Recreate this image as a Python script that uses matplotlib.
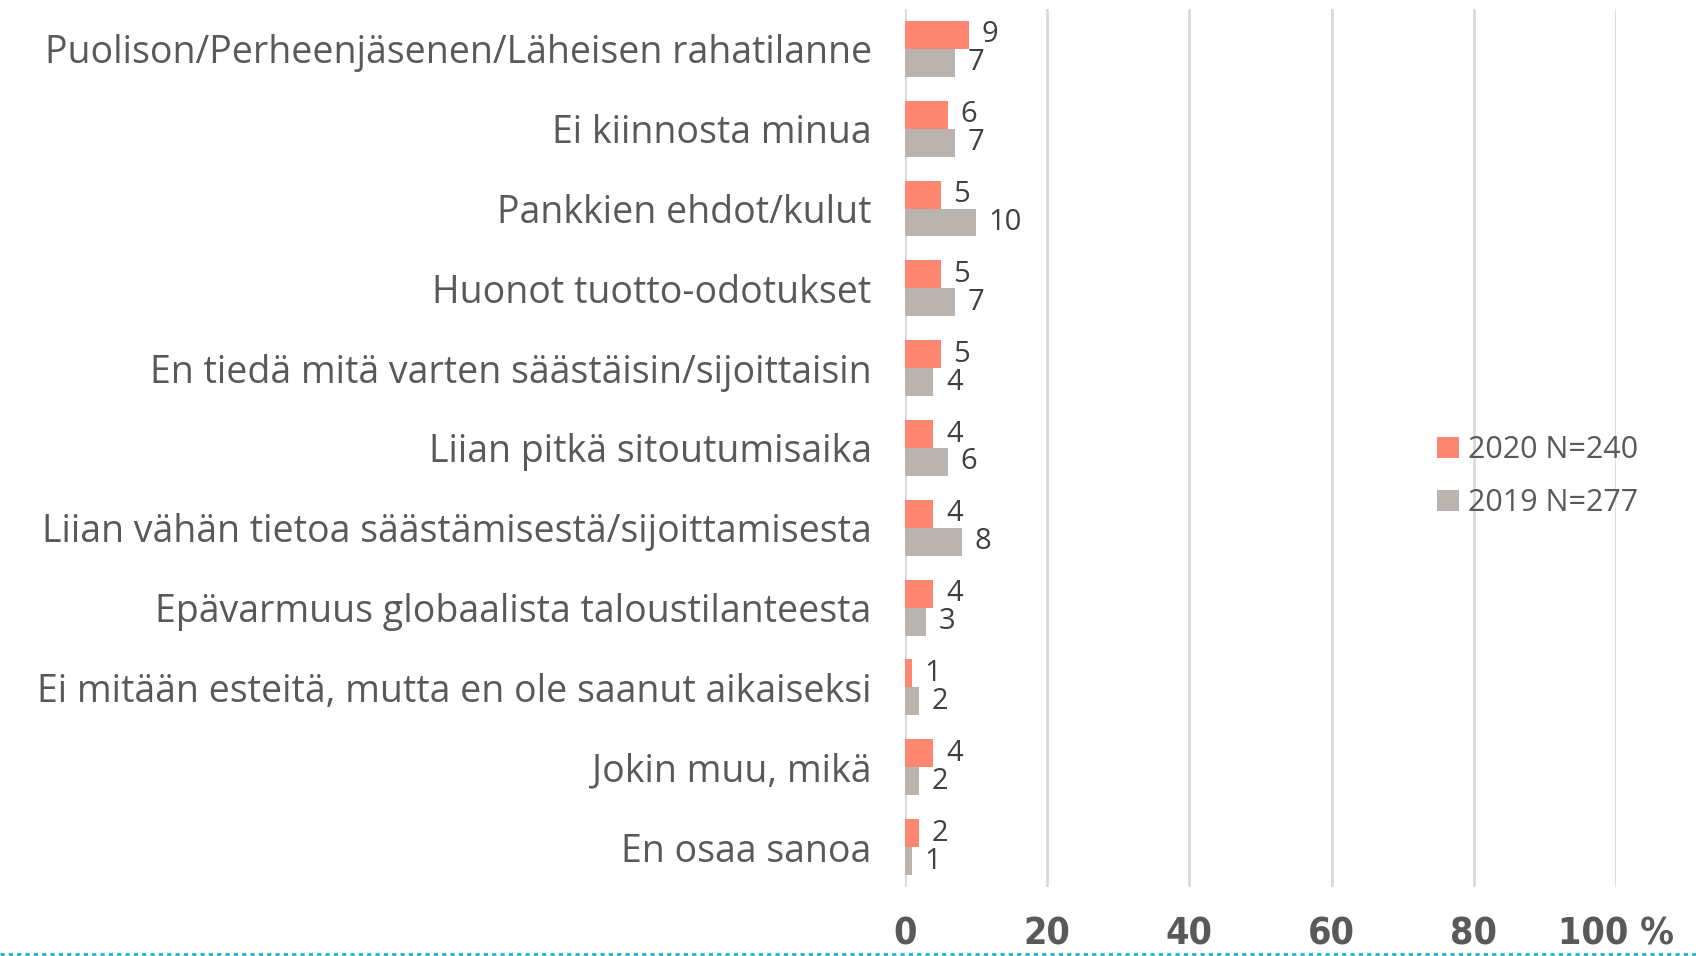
import matplotlib.pyplot as plt
import numpy as np
from matplotlib.lines import Line2D

categories = [
    "Puolison/Perheenjäsenen/Läheisen rahatilanne",
    "Ei kiinnosta minua",
    "Pankkien ehdot/kulut",
    "Huonot tuotto-odotukset",
    "En tiedä mitä varten säästäisin/sijoittaisin",
    "Liian pitkä sitoutumisaika",
    "Liian vähän tietoa säästämisestä/sijoittamisesta",
    "Epävarmuus globaalista taloustilanteesta",
    "Ei mitään esteitä, mutta en ole saanut aikaiseksi",
    "Jokin muu, mikä",
    "En osaa sanoa",
]
values_2020 = [9, 6, 5, 5, 5, 4, 4, 4, 1, 4, 2]
values_2019 = [7, 7, 10, 7, 4, 6, 8, 3, 2, 2, 1]
series_labels = ["2020 N=240", "2019 N=277"]
tick_values = [0, 20, 40, 60, 80, 100]
tick_labels = ["0", "20", "40", "60", "80", "100 %"]

red = "#FF8670"
grey = "#BAB4B1"
text_col = "#595959"

plt.rcParams["font.family"] = ["Open Sans", "DejaVu Sans"]

fig = plt.figure(figsize=(16.96, 9.56), dpi=100)
ax = fig.add_axes([0.5336, 0.0722, 0.4192, 0.9184])

y = np.arange(len(categories))
h = 0.35
b1 = ax.barh(y - h / 2, values_2020, height=h, color=red, label=series_labels[0], zorder=3)
b2 = ax.barh(y + h / 2, values_2019, height=h, color=grey, label=series_labels[1], zorder=3)

for bars in (b1, b2):
    for rect in bars:
        ax.annotate(f"{int(rect.get_width())}",
                    (rect.get_width(), rect.get_y() + rect.get_height() / 2),
                    xytext=(9, 0), textcoords="offset points",
                    va="center", ha="left", fontsize=21, color="#404040")

ax.set_ylim(len(categories) - 0.5, -0.5)
ax.set_xlim(0, 100)
ax.set_yticks(y)
ax.set_yticklabels(categories, fontsize=27, color=text_col)
ax.set_xticks(tick_values)
ax.set_xticklabels(tick_labels, fontsize=27, color=text_col, fontweight="bold",
                   family=["DejaVu Sans"], fontstretch="condensed")
ax.tick_params(axis="y", length=0, pad=24)
ax.tick_params(axis="x", length=0, pad=21)
ax.grid(axis="x", color="#D9D9D9", linewidth=2, zorder=0)
for s in ax.spines.values():
    s.set_visible(False)

leg = ax.legend(loc="center left", bbox_to_anchor=(0.71, 0.467), frameon=False,
                fontsize=22, handlelength=0.7, handleheight=0.7, handletextpad=0.3,
                labelspacing=0.75)
for t in leg.get_texts():
    t.set_color(text_col)

fig.add_artist(Line2D([0, 1], [0.002, 0.002], transform=fig.transFigure,
                      color="#1FB5C8", linewidth=2, linestyle=(0, (1.5, 1.5))))

fig.savefig("out.png", dpi=100)
